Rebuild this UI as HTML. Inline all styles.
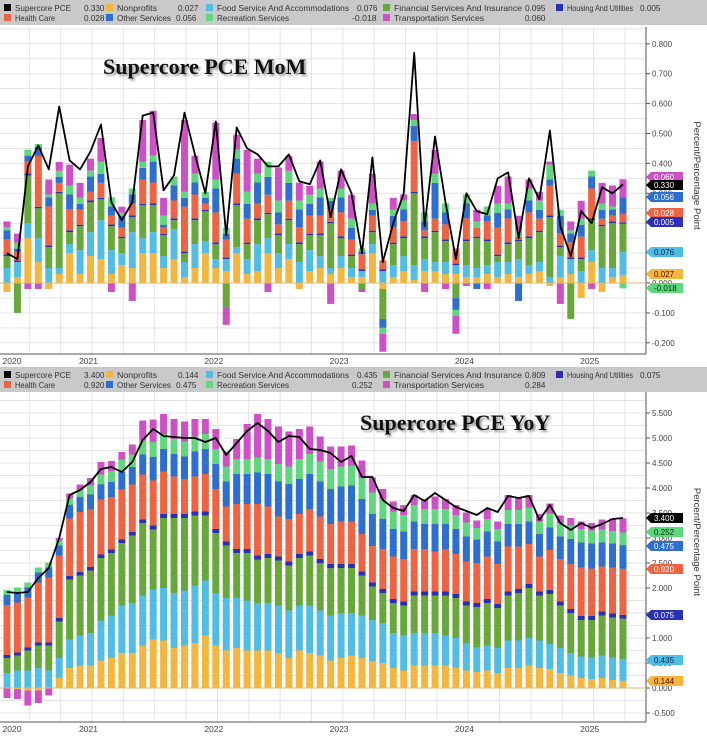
<!DOCTYPE html>
<html><head><meta charset="utf-8"><style>
html,body{margin:0;padding:0;background:#fff;}
svg{display:block;font-family:"Liberation Sans",sans-serif;}
</style></head><body>
<svg id="chart" width="707" height="738" viewBox="0 0 707 738" xmlns="http://www.w3.org/2000/svg"></svg>
<script>
// ---------- MoM panel data ----------
const momTotal=[0.10,0.08,0.39,0.46,0.38,0.59,0.41,0.38,0.44,0.53,0.27,0.21,0.27,0.56,0.57,0.31,0.36,0.57,0.43,0.30,0.54,0.16,0.52,0.45,0.43,0.39,0.39,0.43,0.34,0.33,0.41,0.22,0.38,0.30,0.10,0.42,0.07,0.20,0.30,0.77,0.19,0.49,0.27,0.08,0.30,0.24,0.23,0.35,0.37,0.15,0.35,0.28,0.51,0.19,0.09,0.24,0.20,0.32,0.30,0.33];
const momNonprofits=[-0.03,0.02,0.15,0.07,-0.02,0.03,0.10,0.03,0.09,0.08,0.03,0.06,0.05,0.10,0.10,0.05,0.08,0.02,0.05,0.10,0.05,0.04,0.10,0.03,0.04,0.10,0.05,0.08,-0.02,0.04,0.05,0.03,0.05,0.02,0.02,0.10,-0.02,0.02,0.04,0.01,0.04,0.04,0.03,0.03,0.02,0.02,0.03,0.02,0.03,0.02,0.03,0.04,-0.01,0.02,0.03,-0.05,0.07,-0.03,0.02,0.027];
const momFood=[0.05,0.05,0.05,0.08,0.05,0.02,0.03,0.08,0.08,0.13,0.08,0.04,0.12,0.05,0.07,0.04,0.10,0.05,0.08,0.04,0.03,0.04,0.02,0.05,0.09,0.05,0.05,0.05,0.07,0.07,0.04,0.02,0.04,0.03,0.02,0.03,0.04,0.04,0.05,0.05,0.04,0.03,0.04,0.03,0.04,0.03,0.03,0.05,0.04,0.06,0.03,0.03,0.02,0.07,0.05,0.04,0.04,0.05,0.03,0.076];
const momFinancial=[0.04,-0.10,0.16,0.10,0.07,0.25,0.04,0.08,0.10,0.07,0.08,0.05,0.05,0.11,0.09,0.07,0.03,0.03,0.08,0.10,0.05,-0.08,0.14,0.05,0.08,0.08,0.06,0.08,0.06,0.05,0.07,0.15,0.06,0.04,-0.02,0.04,-0.10,0.07,0.06,0.24,0.07,0.10,0.07,-0.05,0.08,0.10,0.08,0.02,0.06,0.06,0.09,0.10,0.20,0.03,-0.12,0.04,0.10,0.14,0.15,0.095];
const momHousing=[0.006,0.005,0.006,0.005,0.006,0.005,0.006,0.005,0.006,0.005,0.006,0.005,0.006,0.005,0.006,0.005,0.006,0.005,0.006,0.005,0.006,0.005,0.006,0.005,0.006,0.005,0.006,0.005,0.006,0.005,0.006,0.005,0.006,0.005,0.006,0.005,0.006,0.005,0.006,0.005,0.006,0.005,0.006,0.005,0.006,0.005,0.006,0.005,0.006,0.005,0.006,0.005,0.006,0.005,0.006,0.005,0.006,0.005,0.006,0.005];
const momHealth=[0.05,0.03,0.04,0.17,0.13,0.03,0.07,0.05,0.03,0.05,0.03,0.03,0.04,0.08,0.07,0.02,0.06,0.15,0.08,0.02,0.10,0.06,0.10,0.08,0.05,0.06,0.03,0.06,0.05,0.06,0.06,0.04,0.08,0.05,0.05,0.05,0.03,0.05,0.05,0.17,0.02,0.04,0.05,0.05,0.07,0.03,0.06,0.09,0.08,0.01,0.08,0.04,0.10,0.04,0.05,0.07,0.10,0.02,0.02,0.028];
const momOther=[0.03,0.01,0.02,0.03,0.03,0.02,0.05,0.02,0.05,0.03,0.03,0.04,0.03,0.04,0.07,0.01,0.05,0.03,0.04,0.02,0.08,0.02,0.05,0.05,0.07,0.06,0.04,0.06,0.06,0.04,0.06,0.03,0.05,0.04,0.01,0.02,-0.03,0.04,0.04,0.05,0.03,0.12,0.04,-0.04,0.05,-0.02,0.02,0.05,0.03,-0.06,0.04,0.03,0.02,0.06,0.03,0.04,0.04,0.03,0.02,0.056];
const momRecreation=[0.01,0.02,0.02,0.01,0.01,0.02,0.03,0.02,0.02,0.04,0.03,0.01,0.02,0.02,0.02,0.03,0.03,0.02,0.03,0.02,0.03,0.02,0.03,0.04,0.03,0.05,0.04,0.04,0.03,0.03,0.03,0.01,0.03,0.03,0.01,0.02,-0.02,0.02,0.03,0.02,0.03,0.03,0.03,-0.02,0.03,0.02,0.03,0.03,0.02,0.02,0.04,0.03,0.05,0.02,0.01,0.02,0.02,0.02,0.01,-0.018];
const momTransport=[0.02,0.03,-0.02,-0.02,0.05,0.03,0.07,0.05,0.04,0.08,-0.03,0.02,-0.06,0.14,0.15,0.06,0.00,0.24,0.06,0.00,0.19,-0.06,0.05,0.14,0.05,-0.03,0.11,0.05,0.06,0.03,0.09,-0.07,0.06,0.08,-0.01,0.10,-0.06,0.04,0.02,0.02,-0.03,0.08,-0.02,-0.06,-0.01,0.04,-0.02,0.06,0.09,0.05,0.03,0.03,0.01,-0.07,0.03,0.06,-0.02,0.07,0.07,0.06];
const momTicks=[0.8,0.7,0.6,0.5,0.4,0.3,0.2,0.1,0,-0.1,-0.2];
const momTickLabels=["0.800","0.700","0.600","0.500","0.400","0.300","0.200","0.100","0.000","-0.100","-0.200"];
// ---------- YoY panel data ----------
const yoyTotal=[1.92,1.90,1.92,2.20,2.40,3.00,3.86,3.96,4.12,4.38,4.42,4.32,4.52,4.96,5.18,5.04,5.02,5.00,5.00,4.92,5.00,4.66,4.90,5.14,5.30,5.14,4.92,5.04,5.02,4.78,4.76,4.70,4.52,4.64,4.22,4.22,3.76,3.60,3.54,3.86,3.74,3.90,3.76,3.62,3.54,3.46,3.60,3.52,3.84,3.80,3.84,3.36,3.66,3.30,3.16,3.30,3.20,3.28,3.38,3.40];
const yoyNonprofits=[0.00,-0.02,-0.05,-0.05,0.00,0.20,0.40,0.45,0.45,0.55,0.60,0.70,0.70,0.85,0.97,0.95,0.80,0.85,0.90,1.05,0.85,0.75,0.80,0.75,0.75,0.75,0.70,0.60,0.75,0.70,0.65,0.55,0.60,0.65,0.60,0.53,0.50,0.40,0.35,0.45,0.45,0.45,0.45,0.40,0.35,0.32,0.35,0.30,0.40,0.40,0.45,0.40,0.38,0.30,0.25,0.20,0.18,0.20,0.16,0.144];
const yoyFood=[0.30,0.35,0.35,0.40,0.35,0.40,0.57,0.60,0.65,0.80,0.85,0.95,1.00,1.00,1.00,1.05,1.10,1.10,1.15,1.10,1.05,1.05,1.00,1.00,0.95,0.95,0.95,0.95,0.90,0.95,0.90,0.90,0.90,0.85,0.85,0.83,0.80,0.70,0.70,0.65,0.65,0.65,0.60,0.60,0.55,0.50,0.50,0.50,0.55,0.55,0.55,0.55,0.50,0.50,0.45,0.43,0.43,0.45,0.45,0.435];
const yoyFinancial=[0.30,0.30,0.40,0.45,0.50,0.73,1.20,1.20,1.25,1.25,1.25,1.25,1.35,1.45,1.20,1.40,1.50,1.45,1.40,1.30,1.20,1.05,0.90,0.95,0.87,0.90,0.90,0.90,0.95,1.00,0.95,0.95,0.90,0.90,0.80,0.67,0.60,0.60,0.60,0.75,0.75,0.75,0.80,0.80,0.75,0.80,0.85,0.80,0.90,0.95,1.00,0.90,1.00,0.85,0.80,0.73,0.75,0.80,0.80,0.809];
const yoyHousing=[0.06,0.06,0.06,0.06,0.06,0.07,0.07,0.07,0.07,0.07,0.07,0.07,0.07,0.07,0.08,0.08,0.08,0.08,0.08,0.08,0.08,0.08,0.08,0.08,0.08,0.08,0.08,0.08,0.08,0.08,0.08,0.08,0.08,0.08,0.08,0.08,0.08,0.08,0.08,0.08,0.08,0.08,0.08,0.08,0.08,0.08,0.08,0.08,0.08,0.08,0.08,0.08,0.08,0.08,0.08,0.08,0.08,0.08,0.08,0.075];
const yoyHealth=[1.00,1.00,1.00,1.20,1.30,1.25,1.15,1.20,1.15,1.10,1.05,1.00,0.95,0.90,0.90,0.85,0.75,0.70,0.70,0.75,0.80,0.70,0.90,0.90,1.03,0.95,0.80,0.85,0.80,0.85,0.85,0.80,0.85,0.85,0.75,0.73,0.80,0.85,0.85,0.85,0.85,0.80,0.85,0.80,0.80,0.80,0.85,0.80,0.90,0.85,0.80,0.70,0.80,0.85,0.90,0.97,0.95,0.90,0.92,0.92];
const yoyOther=[0.20,0.20,0.20,0.20,0.20,0.20,0.27,0.30,0.30,0.30,0.30,0.35,0.35,0.40,0.47,0.45,0.45,0.45,0.50,0.50,0.50,0.50,0.60,0.60,0.63,0.65,0.70,0.70,0.70,0.70,0.70,0.70,0.70,0.72,0.70,0.64,0.60,0.55,0.55,0.55,0.50,0.55,0.50,0.50,0.50,0.47,0.50,0.45,0.45,0.45,0.45,0.45,0.45,0.45,0.50,0.50,0.50,0.48,0.48,0.475];
const yoyRecreation=[0.10,0.10,0.10,0.10,0.10,0.10,0.13,0.15,0.18,0.20,0.22,0.25,0.25,0.28,0.30,0.30,0.30,0.30,0.30,0.30,0.30,0.30,0.30,0.30,0.30,0.30,0.35,0.35,0.40,0.40,0.40,0.40,0.40,0.40,0.42,0.43,0.40,0.35,0.33,0.33,0.30,0.30,0.30,0.28,0.28,0.23,0.25,0.25,0.28,0.28,0.28,0.25,0.28,0.27,0.27,0.27,0.26,0.26,0.25,0.252];
const yoyTransport=[-0.20,-0.20,-0.30,-0.25,-0.15,0.05,0.10,0.10,0.15,0.25,0.20,0.15,0.20,0.40,0.45,0.40,0.40,0.40,0.35,0.30,0.40,0.30,0.40,0.70,0.87,0.80,0.75,0.70,0.60,0.55,0.50,0.45,0.40,0.40,0.35,0.30,0.20,0.20,0.20,0.20,0.20,0.25,0.20,0.20,0.20,0.15,0.20,0.15,0.30,0.25,0.25,0.15,0.20,0.15,0.15,0.15,0.15,0.20,0.25,0.284];
const yoyTicks=[5.5,5,4.5,4,3.5,3,2.5,2,1.5,1,0.5,0,-0.5];
const yoyTickLabels=["5.500","5.000","4.500","4.000","3.500","3.000","2.500","2.000","1.500","1.000","0.500","0.000","-0.500"];
const yearLabels=["2020","2021","2022","2023","2024","2025"];
const yearMonthIndex=[-4,8,20,32,44,56];

const NS="http://www.w3.org/2000/svg";
const svg=document.getElementById('chart');
const COL={ny:"#f3b63f",fd:"#4fbde6",fin:"#67a83b",hs:"#2b2fb8",hc:"#ee6442",oth:"#2d6fd0",rec:"#5fd77c",tr:"#cf4fc6"};
function el(tag,attrs,parent){const e=document.createElementNS(NS,tag);for(const k in attrs)e.setAttribute(k,attrs[k]);(parent||svg).appendChild(e);return e;}
function xPos(i){return 7+i*10.44;}

function legend(y0,vals){
  const g=el('g',{});
  
  
  el('rect',{x:0,y:y0,width:707,height:25,fill:"#c9c9c9"},g);
  const items=[
    ["Supercore PCE","#000",4,y0+8,vals[0],84,56],
    ["Nonprofits",COL.ny,106,y0+8,vals[1],178,40],
    ["Food Service And Accommodations",COL.fd,206,y0+8,vals[2],357,132],
    ["Financial Services And Insurance",COL.fin,383,y0+8,vals[3],525,128],
    ["Housing And Utilities",COL.hs,556,y0+8,vals[4],640,66],
    ["Health Care",COL.hc,4,y0+18,vals[5],84,40],
    ["Other Services",COL.oth,106,y0+18,vals[6],176,54],
    ["Recreation Services",COL.rec,206,y0+18,vals[7],352,72],
    ["Transportation Services",COL.tr,383,y0+18,vals[8],525,90]];
  items.forEach(it=>{
    const e=el('g',{},g);
    
    
    el('rect',{x:it[2],y:it[3]-4,width:7,height:7,fill:it[1]},e);
    const t=el('text',{x:it[2]+11,y:it[3]+3,'font-size':8.5,fill:"#333",textLength:it[6],lengthAdjust:"spacingAndGlyphs"},e);t.textContent=it[0];
    const v=el('text',{x:it[5],y:it[3]+3,'font-size':8.5,fill:"#333",textLength:it[4].length*4.1,lengthAdjust:"spacingAndGlyphs"},e);v.textContent=it[4];
  });
}

function panel(opt){
  const {top,bottom,zeroY,scale,ticks,tickLabels,minorStep,minorMin,minorMax,series,total,title,titleX,titleY,tags,name}=opt;
  const g=el('g',{});
  
  
  const yv=v=>zeroY-v*scale;
  for(let v=minorMin;v<=minorMax+1e-9;v+=minorStep){
    const y=yv(v); if(y<top||y>bottom)continue;
    el('line',{x1:0,x2:646,y1:y,y2:y,stroke:"#e3e3e3",'stroke-width':1},g);
  }
  for(let q=-2;q<20;q++){const x=92+q*31.35;if(x<0||x>646)continue;el('line',{x1:x,x2:x,y1:top,y2:bottom,stroke:"#e3e3e3",'stroke-width':1},g);}
  el('line',{x1:646,x2:646,y1:top,y2:bottom,stroke:"#555",'stroke-width':1},g);
  el('line',{x1:0,x2:646,y1:bottom,y2:bottom,stroke:"#555",'stroke-width':1},g);
  ticks.forEach((v,k)=>{const y=yv(v);
    el('line',{x1:646,x2:650,y1:y,y2:y,stroke:"#555"},g);
    const t=el('text',{x:652,y:y+3,'font-size':8,fill:"#444"},g);
    
    
    t.textContent=tickLabels[k];});
  const keys=["ny","fd","fin","hs","hc","oth","rec","tr"];
  for(let i=0;i<total.length;i++){
    let pos=0,neg=0;const x=xPos(i)-3.5;
    keys.forEach(k=>{const v=series[k][i];let y0,y1;
      if(v>=0){y0=yv(pos+v);y1=yv(pos);pos+=v;}else{y0=yv(neg);y1=yv(neg+v);neg+=v;}
      const r=el('rect',{x:x,y:y0,width:7,height:Math.max(0,y1-y0),fill:COL[k]},g);
      
      
    });
  }
  el('line',{x1:0,x2:646,y1:zeroY,y2:zeroY,stroke:"#e0b870",'stroke-width':1},g);
  const pts=total.map((v,i)=>xPos(i).toFixed(1)+","+yv(v).toFixed(1)).join(" ");
  const pl=el('polyline',{points:pts,fill:"none",stroke:"#000",'stroke-width':1.8,'stroke-linejoin':'round'},g);
  
  
  const tt=el('text',{x:titleX,y:titleY,'font-size':22,'font-weight':'bold','font-family':'"Liberation Serif",serif',fill:"#111",style:"text-shadow:2px 2px 2px #999"},g);
  
  
  tt.textContent=title;
  const at=el('text',{x:0,y:0,'font-size':9.5,fill:"#333",transform:`translate(694,${(top+bottom)/2-15}) rotate(90)`,'text-anchor':'middle'},g);
  
  
  at.textContent="Percent/Percentage Point";
  tags.forEach(tg=>{const y=tg[1];
    const tgG=el('g',{},g);
    
    
    el('path',{d:`M646,${y} L651,${y-5} L683,${y-5} L683,${y+5} L651,${y+5} Z`,fill:tg[2]},tgG);
    const t=el('text',{x:654,y:y+3,'font-size':8,fill:tg[3]},tgG);t.textContent=tg[0];});
  yearLabels.forEach((lab,k)=>{let x=xPos(yearMonthIndex[k])-2;if(x<0)x=12;
    const t=el('text',{x:x,y:bottom+10,'font-size':8.5,fill:"#444",'text-anchor':'middle'},g);
    
    
    t.textContent=lab;});
}

legend(0,["0.330","0.027","0.076","0.095","0.005","0.028","0.056","-0.018","0.060"]);
legend(367,["3.400","0.144","0.435","0.809","0.075","0.920","0.475","0.252","0.284"]);

panel({name:"mom-panel",top:27,bottom:354,zeroY:283,scale:299,ticks:momTicks,tickLabels:momTickLabels,
  minorStep:0.05,minorMin:-0.25,minorMax:0.85,
  series:{ny:momNonprofits,fd:momFood,fin:momFinancial,hs:momHousing,hc:momHealth,oth:momOther,rec:momRecreation,tr:momTransport},
  total:momTotal,title:"Supercore PCE MoM",titleX:103,titleY:74,
  tags:[["0.060",177,COL.tr,"#fff"],["0.330",185,"#000","#fff"],["0.056",197,COL.oth,"#fff"],["0.028",213,COL.hc,"#fff"],["0.005",222,COL.hs,"#fff"],["0.076",252,COL.fd,"#124"],["0.027",274,COL.ny,"#600"],["-0.018",288,COL.rec,"#030"]]});

panel({name:"yoy-panel",top:392,bottom:722,zeroY:688,scale:50,ticks:yoyTicks,tickLabels:yoyTickLabels,
  minorStep:0.25,minorMin:-0.75,minorMax:5.75,
  series:{ny:yoyNonprofits,fd:yoyFood,fin:yoyFinancial,hs:yoyHousing,hc:yoyHealth,oth:yoyOther,rec:yoyRecreation,tr:yoyTransport},
  total:yoyTotal,title:"Supercore PCE YoY",titleX:360,titleY:430,
  tags:[["3.400",518,"#000","#fff"],["0.252",532,COL.rec,"#030"],["0.475",546,COL.oth,"#fff"],["0.920",569,COL.hc,"#fff"],["0.075",615,COL.hs,"#fff"],["0.435",660,COL.fd,"#124"],["0.144",681,COL.ny,"#600"]]});
</script>
</body></html>
